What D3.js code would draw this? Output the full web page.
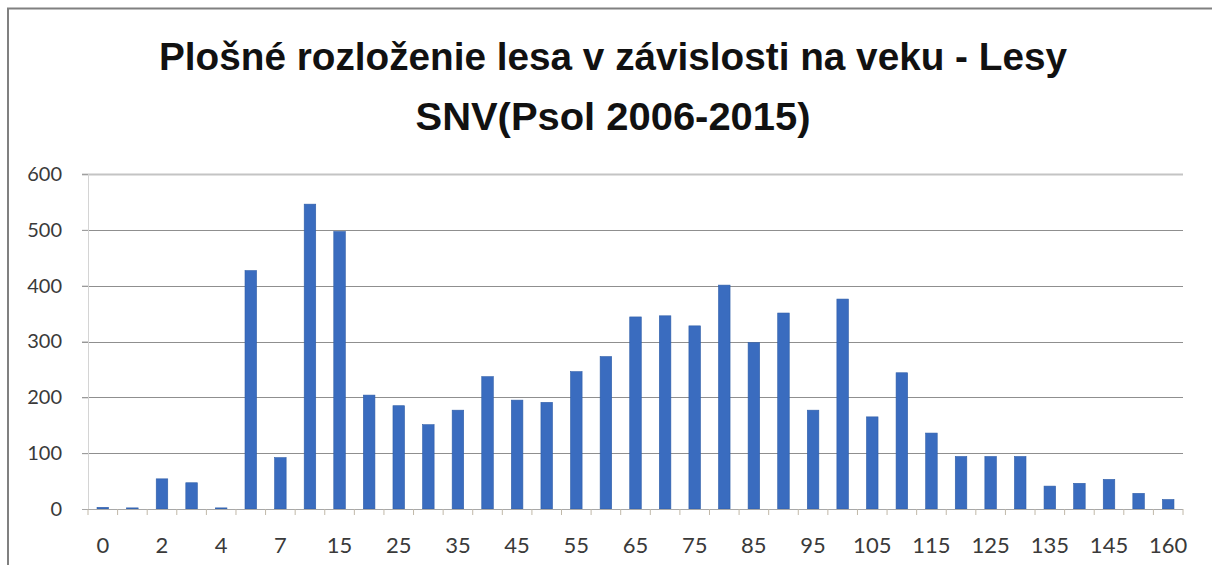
<!DOCTYPE html>
<html>
<head>
<meta charset="utf-8">
<script src="https://cdn.jsdelivr.net/npm/d3@7"></script>
<style>
  html, body { margin: 0; padding: 0; background: #fff; }
  svg { display: block; }
</style>
</head>
<body>
<svg id="chart" width="1212" height="565"></svg>
<script>
// Age classes (years) and forest area per class
const ages = ["0","1","2","3","4","5","7","10","15","20","25","30","35","40","45","50","55","60","65","70","75","80","85","90","95","100","105","110","115","120","125","130","135","140","145","150","160"];
const area = [3,2,54,47,2,427,92,546,497,204,185,151,177,237,195,191,246,273,344,346,328,401,298,351,177,376,165,244,136,94,94,94,41,46,53,28,17];
const yTicks = [0,100,200,300,400,500,600];
const shownAgeLabels = ["0","2","4","7","15","25","35","45","55","65","75","85","95","105","115","125","135","145","160"];
const titleLines = ["Plošné rozloženie lesa v závislosti na veku - Lesy", "SNV(Psol 2006-2015)"];

const svg = d3.select("#chart");
const W = 1212, H = 565;
const plot = { left: 88, right: 1183, top: 174, bottom: 509 };
const labelFont = "Lato, 'Open Sans', 'Liberation Sans', sans-serif";

svg.append("rect").attr("width", W).attr("height", H).attr("fill", "#fff");

// Outer frame (top and left edges)
svg.append("line").attr("x1", 7).attr("x2", W).attr("y1", 8.5).attr("y2", 8.5)
  .attr("stroke", "#808080").attr("stroke-width", 2);
svg.append("line").attr("x1", 8).attr("x2", 8).attr("y1", 8).attr("y2", H)
  .attr("stroke", "#808080").attr("stroke-width", 2);

// Title
const titleSpecs = [
  { y: 70, width: 908 },
  { y: 130, width: 395 }
];
titleLines.forEach((t, i) => {
  svg.append("text")
    .attr("x", 613).attr("y", titleSpecs[i].y)
    .attr("text-anchor", "middle")
    .attr("font-family", "'Liberation Sans Narrow', 'Liberation Sans', Arial, sans-serif")
    .attr("font-weight", "bold")
    .attr("font-size", 38)
    .attr("fill", "#111")
    .attr("textLength", titleSpecs[i].width)
    .attr("lengthAdjust", "spacingAndGlyphs")
    .text(t);
});

const x = d3.scaleBand().domain(ages).range([plot.left, plot.right]).paddingInner(0.61).paddingOuter(0.305);
const y = d3.scaleLinear().domain([0, 600]).range([plot.bottom, plot.top]);

// Horizontal gridlines
svg.append("g").selectAll("line").data(yTicks.filter(v => v > 0)).join("line")
  .attr("x1", plot.left - 6).attr("x2", plot.right)
  .attr("y1", d => Math.round(y(d)) + 0.5).attr("y2", d => Math.round(y(d)) + 0.5)
  .attr("stroke", d => d === 600 ? "#c4c4c4" : "#8f8f8f")
  .attr("stroke-width", d => d === 600 ? 2 : 1);

// Y axis
const yAxis = d3.axisLeft(y).tickValues(yTicks).tickSize(6).tickPadding(20).tickFormat(d3.format("d"));
const gy = svg.append("g").attr("transform", `translate(${plot.left},0)`).call(yAxis);
gy.select(".domain").attr("stroke", "#d4d4d4");
gy.selectAll(".tick line").attr("stroke", "#a0a0a0");
gy.selectAll("text").attr("font-family", labelFont).attr("font-size", 20).attr("fill", "#3a3a3a");

// Bars
svg.append("g").selectAll("rect").data(ages).join("rect")
  .attr("x", d => x(d))
  .attr("width", x.bandwidth())
  .attr("y", (d, i) => y(area[i]))
  .attr("height", (d, i) => y(0) - y(area[i]))
  .attr("fill", "#3a6cbf")
  .attr("stroke", "#2f5ea8")
  .attr("stroke-width", 0.6);

// X axis: tick marks sit on category boundaries, labels on every other class
const step = x.step();
const gx = svg.append("g").attr("transform", `translate(0,${plot.bottom})`);
gx.append("line").attr("x1", plot.left - 6).attr("x2", plot.right).attr("y1", 0.5).attr("y2", 0.5)
  .attr("stroke", "#a8a8a8");
gx.selectAll("line.tk").data(d3.range(ages.length + 1)).join("line")
  .attr("class", "tk")
  .attr("x1", i => plot.left + i * step).attr("x2", i => plot.left + i * step)
  .attr("y1", 0).attr("y2", 6)
  .attr("stroke", "#c0b8a8");
const xAxis = d3.axisBottom(x).tickValues(shownAgeLabels).tickSize(0).tickPadding(28);
const gxl = svg.append("g").attr("transform", `translate(0,${plot.bottom})`).call(xAxis);
gxl.select(".domain").remove();
gxl.selectAll("text").attr("font-family", labelFont).attr("font-size", 22).attr("fill", "#3a3a3a");
</script>
</body>
</html>
